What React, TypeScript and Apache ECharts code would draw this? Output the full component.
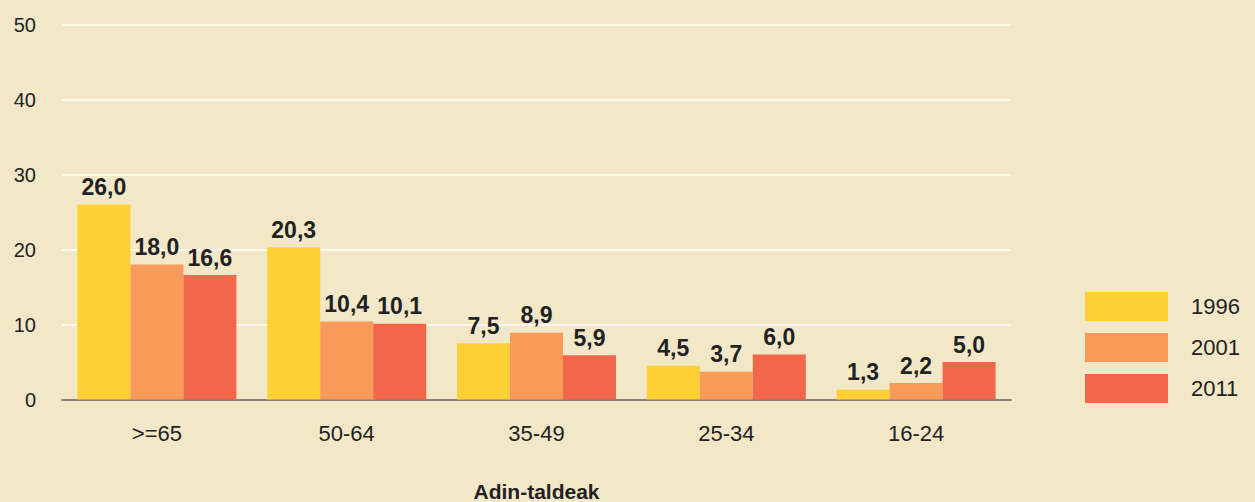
import React, { useEffect, useRef } from "react";
import * as echarts from "echarts";

const categories = [">=65", "50-64", "35-49", "25-34", "16-24"];
const seriesNames = ["1996", "2001", "2011"];
const values1996 = [26.0, 20.3, 7.5, 4.5, 1.3];
const values2001 = [18.0, 10.4, 8.9, 3.7, 2.2];
const values2011 = [16.6, 10.1, 5.9, 6.0, 5.0];
const colors = ["#FFD033", "#F79A5A", "#F2664A"];
const axisName = "Adin-taldeak";

const FONT = "'Liberation Sans', Arial, sans-serif";

export default function App() {
  const ref = useRef<HTMLDivElement>(null);
  useEffect(() => {
    document.body.style.margin = "0";
    const chart = echarts.init(ref.current!, null, { renderer: "svg" });
    const data = [values1996, values2001, values2011];
    chart.setOption({
      animation: false,
      backgroundColor: "#F2E8C8",
      textStyle: { fontFamily: FONT },
      grid: {
        left: 62,
        right: 244,
        top: 24.5,
        bottom: 102.5,
        containLabel: false,
        outerBoundsMode: "none",
      },
      legend: {
        orient: "vertical",
        left: 1085,
        top: 292,
        padding: 0,
        itemWidth: 83,
        itemHeight: 29,
        itemGap: 12,
        icon: "rect",
        data: seriesNames,
        textStyle: { fontSize: 22, color: "#222", fontFamily: FONT, padding: [0, 0, 0, 18] },
      },
      xAxis: {
        type: "category",
        data: categories,
        axisLine: { lineStyle: { color: "#8A8475", width: 2 } },
        axisTick: { show: false },
        axisLabel: { fontSize: 22, color: "#222", margin: 23, fontFamily: FONT },
        name: axisName,
        nameLocation: "middle",
        nameGap: 81,
        nameTextStyle: { fontSize: 21, fontWeight: "bold", color: "#222", fontFamily: FONT },
      },
      yAxis: {
        type: "value",
        min: 0,
        max: 50,
        interval: 10,
        axisLine: { show: false },
        axisTick: { show: false },
        axisLabel: { fontSize: 20, color: "#222", margin: 26, fontFamily: FONT },
        splitLine: { lineStyle: { color: "#FCF8EC", width: 2 } },
      },
      series: seriesNames.map((name, i) => ({
        name,
        type: "bar",
        data: data[i],
        barWidth: 53,
        barGap: "0%",
        itemStyle: { color: colors[i] },
        label: {
          show: true,
          position: "top",
          distance: 6,
          fontSize: 23,
          fontWeight: "bold",
          color: "#222",
          fontFamily: FONT,
          formatter: (p: any) => p.value.toFixed(1).replace(".", ","),
        },
      })),
    });
    return () => chart.dispose();
  }, []);
  return <div ref={ref} style={{ width: 1255, height: 502 }} />;
}
